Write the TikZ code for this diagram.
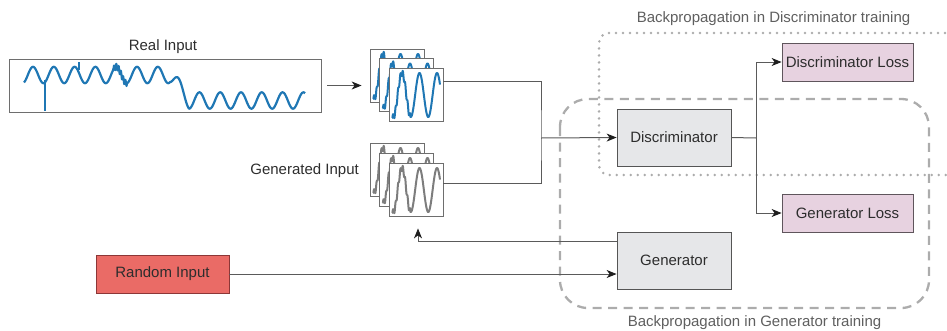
\documentclass[tikz,border=0pt]{standalone}
\usepackage{fontspec}
\setmainfont{Liberation Sans}
\usetikzlibrary{arrows.meta,calc}
\definecolor{txt}{RGB}{45,45,45}
\definecolor{lbl}{RGB}{95,95,95}
\definecolor{conncol}{RGB}{90,90,90}
\definecolor{tipcol}{RGB}{30,30,30}
\definecolor{boxgray}{RGB}{230,231,233}
\definecolor{boxline}{RGB}{85,85,85}
\definecolor{lossfill}{RGB}{231,210,224}
\definecolor{lossline}{RGB}{95,85,92}
\definecolor{randfill}{RGB}{234,107,102}
\definecolor{randline}{RGB}{140,55,55}
\definecolor{bgline}{RGB}{172,172,172}
\definecolor{wblue}{RGB}{31,119,180}
\definecolor{wgray}{RGB}{125,125,125}
\definecolor{framecol}{RGB}{110,110,110}
\tikzset{
  mybox/.style={draw=boxline, line width=0.8pt, fill=boxgray, minimum width=114pt, minimum height=57pt, inner sep=0pt, text=txt, font=\fontsize{15}{18}\selectfont},
  lossbox/.style={mybox, draw=lossline, fill=lossfill, minimum width=131pt, minimum height=38pt},
  randbox/.style={mybox, draw=randline, fill=randfill, minimum width=133pt, minimum height=38pt},
  conn/.style={draw=conncol, line width=1pt},
  arr/.style={conn, -{Stealth[length=10pt,width=8pt,inset=3pt,color=tipcol]}},
  dashbox/.style={draw=bgline, line width=2.3pt, dash pattern=on 9pt off 6.5pt},
  dotbox/.style={draw=bgline, line width=2.8pt, line cap=round, dash pattern=on 0pt off 7pt},
  lab/.style={text=txt, font=\fontsize{15}{18}\selectfont, inner sep=0pt},
  backlab/.style={text=lbl, font=\fontsize{15}{18}\selectfont, inner sep=0pt},
  framebox/.style={draw=framecol, line width=0.8pt, fill=white, minimum width=54pt, minimum height=53pt, inner sep=0pt},
}
\newcommand\wframe[3]{%
  \node[framebox] (#3) at (#1+27,#2+26.5) {};
  \begin{scope}
    \clip (#1,#2) rectangle (#1+54,#2+53);
    \draw[wavec, line width=2pt, line join=round]
      plot[domain=3:51, samples=140] ({#1+\x},{#2+27-22*cos((360/17.5)*(\x-13))+(\x<21)*3*sin(150*min(\x,21))});
  \end{scope}
  \draw[framecol, line width=0.8pt] (#1,#2) rectangle (#1+54,#2+53);
}
\begin{document}
\begin{tikzpicture}[x=1pt,y=-1pt]
\useasboundingbox (0,0) rectangle (947,330);
% background groups
\draw[dotbox, rounded corners=10pt] (952,33) -- (599,33) -- (599,175) -- (952,175);
\draw[dashbox, rounded corners=28pt] (560,99) rectangle (929,308);
\node[backlab] (bdl) at (773.5,19) {Backpropagation in Discriminator training};
\node[backlab] (bgl) at (754.5,323) {Backpropagation in Generator training};
% real input
\node[lab] (rilab) at (163,47) {Real Input};
\node[draw=framecol, line width=0.8pt, minimum width=312pt, minimum height=53pt, inner sep=0pt] (real) at (165,85.5) {};
\draw[wblue, line width=2.2pt, line join=round]
  plot[domain=24:305, samples=500] (\x,{75 + 25.5*min(1,max(0,(\x-170)/19)) - 8.2*cos((360/20.8)*(\x-33)) + (\x>113)*(\x<127)*3*sin(157*min(20,max(0,\x-110)))});
\draw[wblue, line width=2pt] (45,80) -- (45,111);
\draw[wblue, line width=1.8pt] (79,70) -- (79,62);
% stacks
\colorlet{wavec}{wblue}
\wframe{370}{49}{rs1}
\wframe{379.5}{58.5}{rs2}
\wframe{389}{68}{rstack}
\colorlet{wavec}{wgray}
\wframe{370}{143}{gs1}
\wframe{379.5}{153}{gs2}
\wframe{389}{163}{gstack}
\node[lab, anchor=east] (gilab) at (359,171) {Generated Input};
% boxes
\node[mybox] (disc) at (674,137.5) {Discriminator};
\node[mybox] (gen) at (674,260.5) {Generator};
\node[lossbox] (dloss) at (847.5,62) {Discriminator Loss};
\node[lossbox] (gloss) at (847.5,213) {Generator Loss};
\node[randbox] (rand) at (162.5,274) {Random Input};
% connectors
\coordinate (mx) at (541,138);
\coordinate (sx) at (756,138);
\draw[arr] ([xshift=6pt]real.east) -- ([xshift=-8pt]rs1.west |- real.east);
\draw[conn] ([yshift=13.5pt]rstack.east) -| (mx) |- ([yshift=6.5pt]gstack.east);
\draw[arr] (mx) -- (disc.west);
\draw[conn] (disc.east) -- (sx);
\draw[arr] (sx) |- (dloss.west);
\draw[arr] (sx) |- (gloss.west);
\draw[arr] ([yshift=19.5pt]gen.west) -| ([xshift=2pt,yshift=-12pt]gstack.south);
\draw[arr] (rand.east) -- (gen.west |- rand.east);
\end{tikzpicture}
\end{document}
